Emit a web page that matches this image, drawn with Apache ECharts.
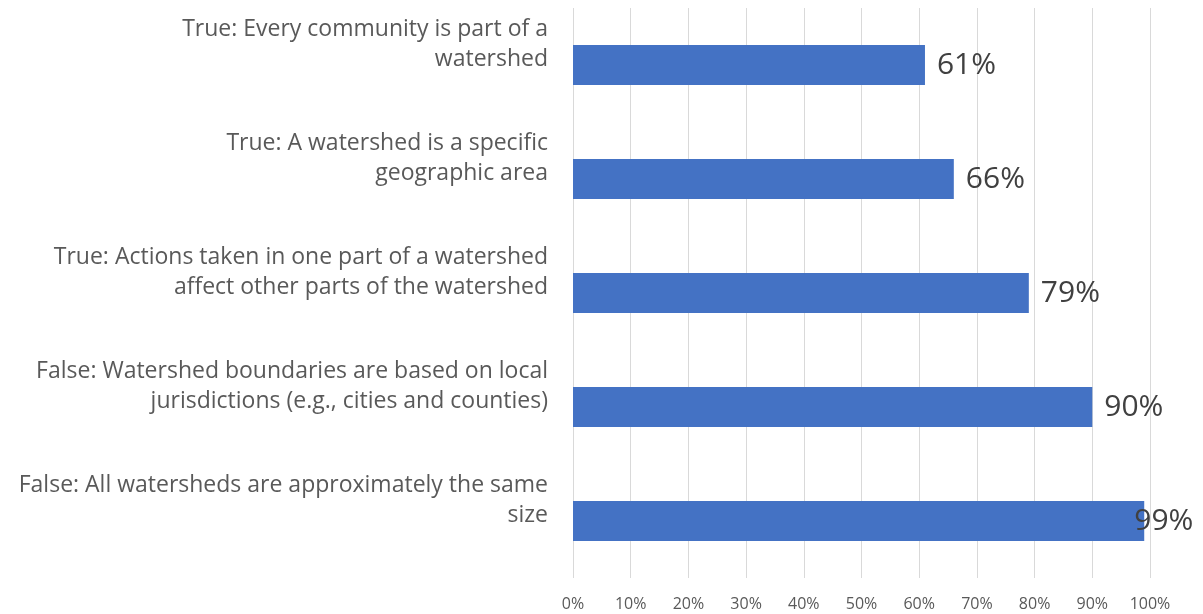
<!DOCTYPE html>
<html>
<head>
<meta charset="utf-8">
<script src="https://cdn.jsdelivr.net/npm/echarts@6/dist/echarts.min.js"></script>
<style>
  html, body { margin: 0; padding: 0; background: #fff; }
  #chart { width: 1203px; height: 614px; }
</style>
</head>
<body>
<div id="chart"></div>
<script>
// statements, top to bottom as drawn
const statements = [
  'True: Every community is part of a\nwatershed',
  'True: A watershed is a specific\ngeographic area',
  'True: Actions taken in one part of a watershed\naffect other parts of the watershed',
  'False: Watershed boundaries are based on local\njurisdictions (e.g., cities and counties)',
  'False: All watersheds are approximately the same\nsize'
]
const correctShare = [61, 66, 79, 90, 99]

const chart = echarts.init(document.getElementById('chart'))
const font = '"Open Sans", "Liberation Sans", sans-serif'

chart.setOption({
  animation: false,
  grid: {
    left: 573,
    right: 53,
    top: 8,
    bottom: 36
  },
  xAxis: {
    type: 'value',
    min: 0,
    max: 100,
    interval: 10,
    axisLine: { show: false },
    axisTick: { show: false },
    splitLine: { lineStyle: { color: '#d9d9d9', width: 1 } },
    axisLabel: {
      formatter: (value) => `${value}%`,
      color: '#595959',
      fontFamily: font,
      fontSize: 16,
      margin: 18
    }
  },
  yAxis: {
    type: 'category',
    inverse: true,
    data: statements,
    axisLine: { show: false },
    axisTick: { show: false },
    axisLabel: {
      // an empty spacer line underneath lifts the text above the bar, like the original
      formatter: (value) => value.split('\n').map((l) => `{t|${l}}`).join('\n') + '\n{s| }',
      align: 'right',
      margin: 25,
      rich: {
        t: { color: '#595959', fontFamily: font, fontSize: 23, lineHeight: 30, align: 'right' },
        s: { fontSize: 10, lineHeight: 42 }
      }
    }
  },
  series: [{
    type: 'bar',
    data: correctShare.map((v, i) => i === correctShare.length - 1
      ? { value: v, label: { offset: [-22, 0] } }
      : v),
    barWidth: 40,
    itemStyle: { color: '#4472c4' },
    label: {
      show: true,
      position: 'right',
      distance: 12,
      formatter: (p) => `${p.value}%`,
      color: '#404040',
      fontFamily: font,
      fontSize: 30
    }
  }]
})
</script>
</body>
</html>
